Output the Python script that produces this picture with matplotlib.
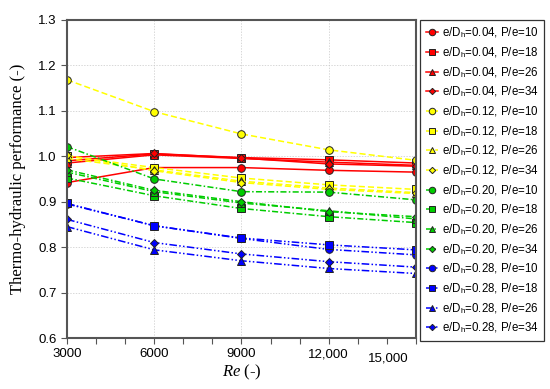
import matplotlib
matplotlib.use("Agg")
import matplotlib.pyplot as plt

plt.rcParams['font.family'] = ['Liberation Sans', 'DejaVu Sans']
plt.rcParams['mathtext.fontset'] = 'custom'
plt.rcParams['mathtext.rm'] = 'Liberation Sans'
plt.rcParams['mathtext.it'] = 'Liberation Serif:italic'

re_vals = [3000, 6000, 9000, 12000, 15000]

# e/Dh = 0.04
red_10 = [0.942, 0.975, 0.975, 0.969, 0.965]
red_18 = [0.990, 1.005, 0.997, 0.992, 0.985]
red_26 = [0.985, 1.003, 0.995, 0.987, 0.980]
red_34 = [0.997, 1.006, 0.996, 0.983, 0.978]
# e/Dh = 0.12
yel_10 = [1.168, 1.098, 1.049, 1.014, 0.991]
yel_18 = [1.000, 0.975, 0.952, 0.937, 0.927]
yel_26 = [0.995, 0.970, 0.945, 0.930, 0.920]
yel_34 = [1.002, 0.968, 0.942, 0.927, 0.918]
# e/Dh = 0.20
grn_10 = [1.021, 0.950, 0.922, 0.921, 0.904]
grn_18 = [0.952, 0.913, 0.885, 0.867, 0.854]
grn_26 = [0.965, 0.922, 0.897, 0.880, 0.862]
grn_34 = [0.970, 0.925, 0.900, 0.878, 0.867]
# e/Dh = 0.28
blu_10 = [0.895, 0.847, 0.819, 0.795, 0.783]
blu_18 = [0.896, 0.847, 0.820, 0.805, 0.794]
blu_26 = [0.845, 0.794, 0.770, 0.753, 0.742]
blu_34 = [0.861, 0.810, 0.785, 0.768, 0.756]

groups = [
    ("0.04", "#ff0000", "-", [red_10, red_18, red_26, red_34]),
    ("0.12", "#ffff00", (0, (4, 2)), [yel_10, yel_18, yel_26, yel_34]),
    ("0.20", "#00cc00", (0, (4, 1.5, 1, 1.5)), [grn_10, grn_18, grn_26, grn_34]),
    ("0.28", "#0000ff", (0, (5, 1.5, 1, 1.5, 1, 1.5)), [blu_10, blu_18, blu_26, blu_34]),
]
pe_vals = ["10", "18", "26", "34"]
markers = ["o", "s", "^", "D"]
msizes = [5.5, 5.5, 5.5, 3.8]

fig = plt.figure(figsize=(5.5, 3.89), dpi=100)
ax = fig.add_axes([0.122, 0.131, 0.634, 0.818])

for ed, color, ls, series in groups:
    for pe, mk, ms, vals in zip(pe_vals, markers, msizes, series):
        ax.plot(re_vals, vals, linestyle=ls, color=color, linewidth=1.1,
                marker=mk, markersize=ms, markerfacecolor=color,
                markeredgecolor="#222222", markeredgewidth=0.7,
                label="e/D$_\\mathrm{h}$=" + ed + ", P/e=" + pe)

ax.set_xlim(3000, 15000)
ax.set_ylim(0.6, 1.3)
ax.set_yticks([0.6, 0.7, 0.8, 0.9, 1.0, 1.1, 1.2, 1.3])
ax.set_yticklabels(["0.6", "0.7", "0.8", "0.9", "1.0", "1.1", "1.2", "1.3"])
ax.set_xticks([3000, 6000, 9000, 12000, 15000])
ax.set_xticklabels(["3000", "6000", "9000", "12,000", ""])
ax.set_xticks(range(4000, 15000, 1000), minor=True)
ax.text(14050, 0.6 - 0.7 * 0.045, "15,000", ha="center", va="top", fontsize=9.5)
ax.tick_params(axis="both", which="both", direction="out", length=4,
               width=0.8, color="#555555", labelsize=9.5)
ax.grid(True, which="major", linestyle=(0, (2, 2)), linewidth=0.5, color="#c8c8c8")
for sp in ax.spines.values():
    sp.set_color("#555555")
    sp.set_linewidth(1.5)

ax.set_ylabel("Thermo-hydraulic performance (-)", family="Liberation Serif",
              fontsize=12, labelpad=9)
ax.set_xlabel("$Re$ (-)", family="Liberation Serif", fontsize=12, labelpad=2)

leg = ax.legend(loc="upper left", bbox_to_anchor=(1.013, 1.0), fontsize=8.3,
                handlelength=1.0, handletextpad=0.35, borderpad=0.5,
                labelspacing=0.44, fancybox=False, edgecolor="#333333",
                framealpha=1, borderaxespad=0, markerscale=0.85)
leg.get_frame().set_linewidth(0.9)

plt.savefig("out.png", dpi=100)
